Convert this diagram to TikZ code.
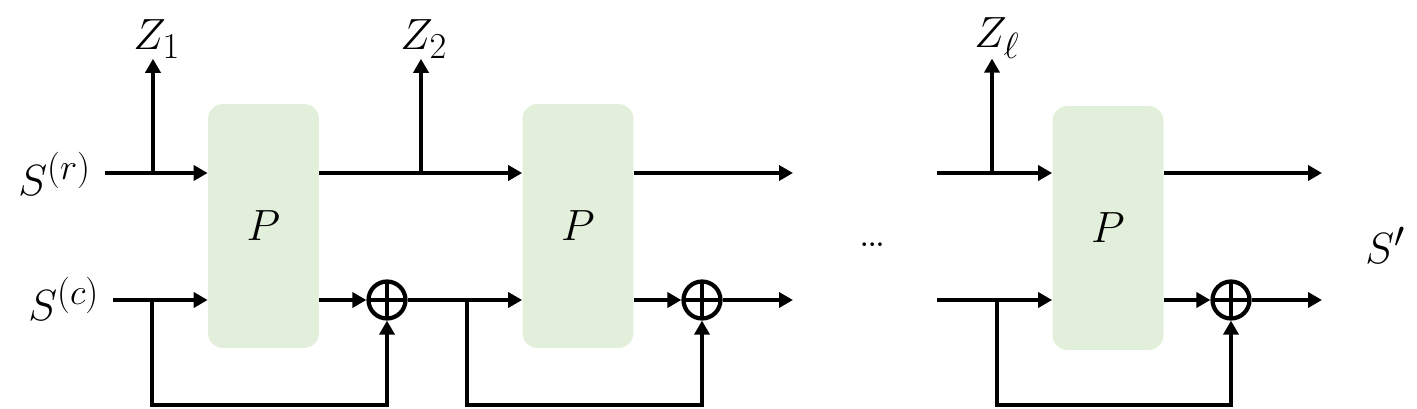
\documentclass[tikz,border=0pt]{standalone}
\usepackage{amsmath, amssymb}
\usepackage{tikz}
\usetikzlibrary{arrows.meta, positioning}
\definecolor{permgreen}{HTML}{E2EFDA}

\begin{document}
\begin{tikzpicture}[
    x=0.02cm, y=-0.02cm,
    every node/.style={font=\Huge},
    lab/.style={inner sep=0pt},
    perm/.style={rectangle, fill=permgreen, rounded corners=0.3cm, minimum width=2.22cm, minimum height=4.88cm},
    xorop/.style={circle, draw, line width=2.4pt, minimum size=0.74cm, inner sep=0pt,
      path picture={\draw[line width=2.4pt] (path picture bounding box.north) -- (path picture bounding box.south)
        (path picture bounding box.west) -- (path picture bounding box.east);}},
    arrow/.style={-{Triangle[length=0.28cm, width=0.3cm]}, line width=2.4pt}
  ]

  \useasboundingbox (0,0) rectangle (1417,409);

  \node[perm] (p1) at (263.5,226) {$P$};
  \node[perm] (p2) at (578,226) {$P$};
  \node[perm] (p3) at (1108,228) {$P$};

  \node[xorop] (x1) at (387,300) {};
  \node[xorop] (x2) at (702,300) {};
  \node[xorop] (x3) at (1231,300) {};

  \node[lab, anchor=base west] (sr) at (18,195) {$S^{(r)}$};
  \node[lab, anchor=base west] (sc) at (28,320) {$S^{(c)}$};
  \node[lab, anchor=base west] (z1) at (133,50) {$Z_1$};
  \node[lab, anchor=base west] (z2) at (400,50) {$Z_2$};
  \node[lab, anchor=base west] (z3) at (974,48) {$Z_\ell$};
  \node[lab, anchor=base west] (sout) at (1365,263) {$S'$};
  \node[lab, font=\Large\bfseries, anchor=base west] (dots) at (860,246) {...};

  \coordinate (r0) at (105,173);
  \coordinate (c0) at (113,300);
  \coordinate (z1b) at (153,173);
  \coordinate (f1) at (152,300);
  \coordinate (z2b) at (421,173);
  \coordinate (f2) at (467,300);
  \coordinate (r2) at (793,173);
  \coordinate (c2) at (793,300);
  \coordinate (r3) at (937,173);
  \coordinate (c3) at (937,300);
  \coordinate (z3b) at (992,173);
  \coordinate (f3) at (997,300);
  \coordinate (rout) at (1322,173);
  \coordinate (cout) at (1322,300);

  \draw[arrow] (r0) -- (r0 -| p1.west);
  \draw[arrow] (z1b) -- (z1b |- z1.south);
  \draw[arrow] (p1.east |- r0) -- (p2.west |- r0);
  \draw[arrow] (z2b) -- (z2b |- z2.south);
  \draw[arrow] (p2.east |- r0) -- (r2);
  \draw[arrow] (r3) -- (r3 -| p3.west);
  \draw[arrow] (z3b) -- (z3b |- z3.south);
  \draw[arrow] (p3.east |- r3) -- (rout);

  \draw[arrow] (c0) -- (c0 -| p1.west);
  \draw[arrow] (p1.east |- c0) -- (x1);
  \draw[arrow] (f1) -- ++(0,105) -| (x1.south);
  \draw[arrow] (x1) -- (p2.west |- c0);
  \draw[arrow] (p2.east |- c0) -- (x2);
  \draw[arrow] (f2) -- ++(0,105) -| (x2.south);
  \draw[arrow] (x2) -- (c2);
  \draw[arrow] (c3) -- (c3 -| p3.west);
  \draw[arrow] (p3.east |- c3) -- (x3);
  \draw[arrow] (f3) -- ++(0,105) -| (x3.south);
  \draw[arrow] (x3) -- (cout);

\end{tikzpicture}
\end{document}
